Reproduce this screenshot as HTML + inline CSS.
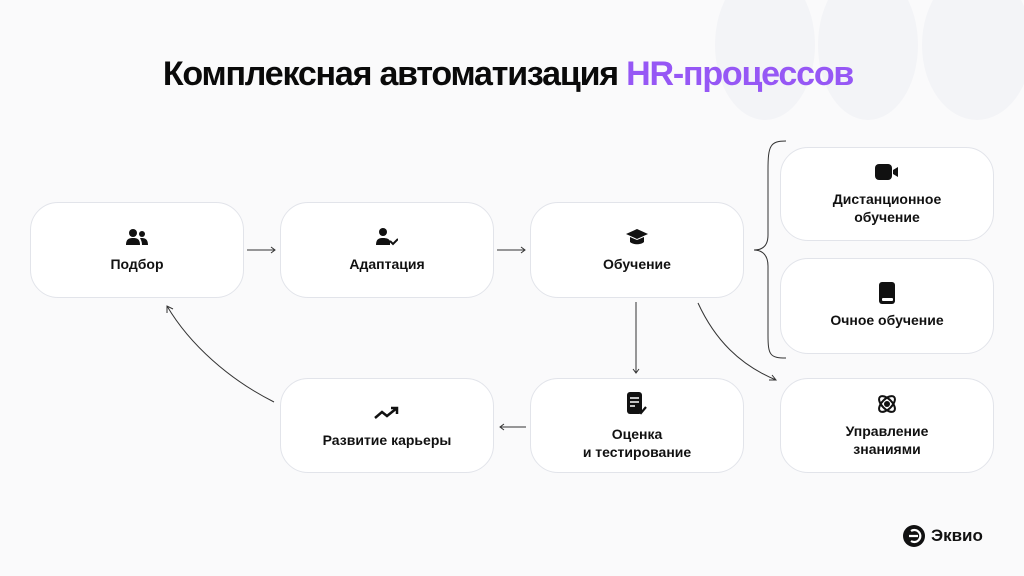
<!DOCTYPE html><html><head><meta charset="utf-8"><style>
body{margin:0;width:1024px;height:576px;background:#fafafb;font-family:"Liberation Sans","DejaVu Sans",sans-serif;position:relative;overflow:hidden}
.b{position:absolute;width:214px;background:#fff;border:1px solid #e2e4ea;border-radius:28px;box-sizing:border-box;display:flex;flex-direction:column;align-items:center;justify-content:center;font-weight:bold;font-size:14px;color:#111;text-align:center;line-height:18px}
.i{margin-bottom:8px;height:20px;display:flex;align-items:center}
h1{position:absolute;top:55px;left:0;width:1016px;text-align:center;margin:0;font-size:34px;letter-spacing:-1.2px;color:#0a0a0a}
.deco{position:absolute;border-radius:50%;background:#f3f4f7}
</style></head><body>
<div class="deco" style="left:715px;top:-30px;width:100px;height:150px"></div>
<div class="deco" style="left:818px;top:-30px;width:100px;height:150px"></div>
<div class="deco" style="left:922px;top:-30px;width:110px;height:150px"></div>
<svg style="position:absolute;left:0;top:0" width="1024" height="576">
<g stroke="#333" stroke-width="1" fill="none">
<path d="M247 250H275M271 247l4 3-4 3"/>
<path d="M497 250H525M521 247l4 3-4 3"/>
<path d="M636 302V373M633 369l3 4 3-4"/>
<path d="M526 427H500M504 424l-4 3 4 3"/>
<path d="M274 402C230 380 190 345 167 306M167 313l0-7 6 3"/>
<path d="M698 303C715 340 740 365 776 380M769 380l7 0-4-5"/>
<path d="M786 141C770 141 768 146 768 170V235C768 248 760 250 754 250C760 250 768 253 768 266V335C768 355 770 358 786 358"/>
</g></svg>
<h1>Комплексная автоматизация <span style="color:#9657f5">HR-процессов</span></h1>
<div class="b" style="left:30px;top:202px;height:96px"><div class="i"><svg width="22" height="16"><circle cx="7" cy="4" r="4" fill="#111"/><path d="M0 16c0-6 3-7 7-7s7 1 7 7z" fill="#111"/><circle cx="16" cy="5" r="3" fill="#111"/><path d="M15 9c4 0 7 1 7 7h-6c0-3-1-5-2-7z" fill="#111"/></svg></div>Подбор</div>
<div class="b" style="left:280px;top:202px;height:96px"><div class="i"><svg width="22" height="18"><circle cx="7" cy="4" r="4" fill="#111"/><path d="M0 17c0-6 3-7 7-7s6 1 7 3v4z" fill="#111"/><path d="M14 13l3 3 5-5" stroke="#111" stroke-width="2" fill="none"/></svg></div>Адаптация</div>
<div class="b" style="left:530px;top:202px;height:96px"><div class="i"><svg width="22" height="18"><path d="M11 1L22 6 11 11 0 6z" fill="#111"/><path d="M4 9v5c3 3 11 3 14 0V9l-7 3z" fill="#111"/></svg></div>Обучение</div>
<div class="b" style="left:780px;top:147px;height:94px"><div class="i"><svg width="24" height="18"><rect x="0" y="1" width="17" height="16" rx="4" fill="#111"/><path d="M18 7l5-3v10l-5-3z" fill="#111"/></svg></div>Дистанционное<br>обучение</div>
<div class="b" style="left:780px;top:258px;height:96px"><div class="i"><svg width="16" height="22"><rect x="0" y="0" width="16" height="22" rx="3" fill="#111"/><rect x="3" y="16" width="11" height="3" rx="1" fill="#fff"/></svg></div>Очное обучение</div>
<div class="b" style="left:780px;top:378px;height:95px"><div class="i"><svg width="22" height="22"><circle cx="11" cy="11" r="3" fill="#111"/><ellipse cx="11" cy="11" rx="10" ry="5" stroke="#111" stroke-width="2" fill="none" transform="rotate(45 11 11)"/><ellipse cx="11" cy="11" rx="10" ry="5" stroke="#111" stroke-width="2" fill="none" transform="rotate(-45 11 11)"/></svg></div>Управление<br>знаниями</div>
<div class="b" style="left:280px;top:378px;height:95px"><div class="i"><svg width="26" height="14"><path d="M1 12l7-6 5 4 10-8M17 2h6v6" stroke="#111" stroke-width="2.5" fill="none"/></svg></div>Развитие карьеры</div>
<div class="b" style="left:530px;top:378px;height:95px"><div class="i" style="height:26px"><svg width="20" height="24"><rect x="0" y="0" width="15" height="22" rx="3" fill="#111"/><path d="M3 6h9M3 10h9M3 14h5" stroke="#fff" stroke-width="1.6"/><path d="M11 18l3 3 5-6" stroke="#111" stroke-width="2.2" fill="none"/></svg></div>Оценка<br>и тестирование</div>
<div style="position:absolute;left:903px;top:525px;display:flex;align-items:center;font-size:17px;font-weight:bold;color:#111"><svg width="22" height="22" style="margin-right:6px"><circle cx="11" cy="11" r="11" fill="#111"/><path d="M6 11h9M8 6a6 6 0 1 1 0 10" stroke="#fff" stroke-width="2.2" fill="none"/></svg>Эквио</div>
</body></html>
